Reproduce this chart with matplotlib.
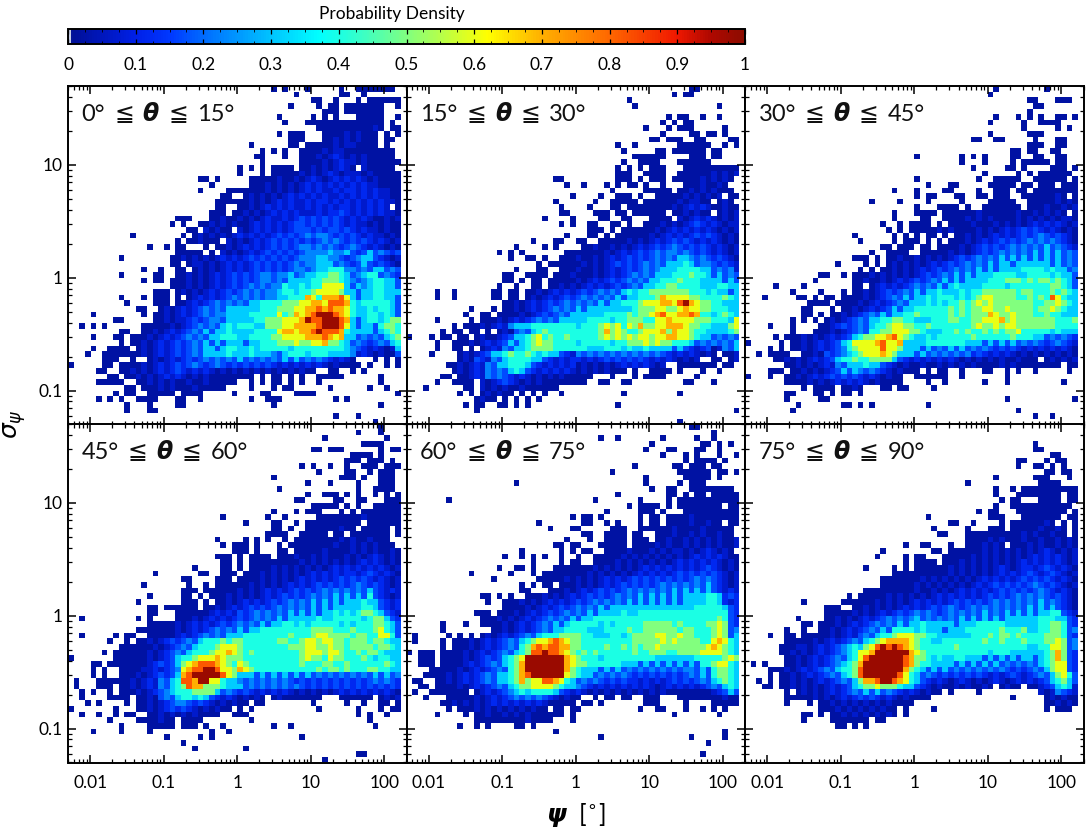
import numpy as np
import matplotlib
matplotlib.use("Agg")
import matplotlib.pyplot as plt
from matplotlib.colors import LinearSegmentedColormap
from matplotlib.ticker import FixedLocator, FixedFormatter, NullFormatter

# cell levels: one char per bin, groups of ten columns, "-" = empty group, top row first
LEVELS = {"0": 0.02, "a": 0.07, "1": 0.12, "b": 0.17, "2": 0.23, "3": 0.31,
          "4": 0.40, "5": 0.50, "6": 0.60, "7": 0.70, "8": 0.82, "9": 0.98}

P1 = [
"- - - ......0.0 ..0.....0 .0000000","- - - - 0.......00 ..0","- - - - ...00..0 .0.000000","- - - .........0 ....0.00.0 000000..0",
"- - - - .....000.0 000000","- - - .......0 ...0.0.0 .00000..0","- - - ........0. ..00000000 000000.0.0","- - - - ....000000 0000a0.00",
"- - - .......0.0 00...0000a 0a000.0.0","- - - .........0 00...00a0a 0a000.00","- - - ..0......0 0.00000a0a a0000.0..0","- - - ....0.0.0. .0000a0aa0 00000000.0",
"- - - ...00...0. .000a0a1a0 a0a00000.0","- - - ....0..... .0000a0a1a a0a000000.0","- - - 0.0.0.0000 .00a0a0a1a 0.a00000","- - - 0...0.0000 0a0a0a1a0a aa0a00000",
"- - ...00.0... ..00000a00 a0a1a0a1a1 a1a0a00000","- - .....0.... ..000a0a0a 0a1a1a1a1a 1a1aa0000","- - ...0....00 00000a0a0a 0a1a1aa1a1 1a1a1aa000","- - .......00. .0a0a0a0a1 a1a1a1aa1a 1a1a1aa000",
"- - ......0000 00a0a0a1a1 aa1a11a1a1 a1a1a1aa00","- - ......00.. 00a0a1a1a1 aa1a1a1a11 a1a1a1a.00","- - .....000.0 0a0a0a1a1a 1aaa1a11b1 a1a1a1aa00","- .........0 00...00a00 a0a0a1aa1a 1b1b1b1b1a 1a1a00a0a0",
"- ........0. 0..00a0a0a 00a1a1a1a1 bb1b1b1b1a 1aa0a0a000","- - .00.a0a00. a0a1a1a1a1 bbb1b1bb1b 1a1aa0a000","- .0........ 0.0a0a0a0a 1a1a1a1b1b 1b2b22b1b1 b1a1aa0a00","- .........0 .00a000.a0 a0a1a1b1b1 b1b1b2b2b1 b1b1a1a0a0",
"- ....0..0.0 0...0.00a0 a1a1a1b1b1 b22b2b2b1b 2b1a1a0a0a","- .........0 0000.0.a0a 0a1a1b1b1b 1b22223223 b1b3b2b1b1",".........0 ........00 a0a0a0a1a1 a1b1b1b1b1 b2223322b1 b233b1a0a0","- ........00 .0aa0a0a1a 1a1b1b1b1b 2b22333b2b 1b3b1b1a0a",
"- ...0..0..0 0.0a0a0a1a 1a1b1b1b1b 22b2334442 2b2b33b2b1",".........0 .....00..0 0a0a0a1a1b 1b1b22b223 b233445543 b2344b2b1","- ...0.00.00 0a0a0a1a1b 1b1b22b2b3 3334455543 2b234433b","- ........00 0a0a0a1a1b 1b2b2b2243 3434466663 b3234433b",
"- .....000.0 a0a0a1a1b1 b2b2b22344 3445666653 3b3344333b",".........0 ...0.000.0 .0a1a1a1b2 b2b2b22334 4476477786 3b334433b",".......... 0....000.0 0a1a1b2b2b 2b33444455 5667768887 43444443b","- ..00..0a0a 1a1b2b2b33 3333444555 6677878776 43343443b",
"....0..... ...0.00a0a 1a1b2b2233 3344444645 7678999876 43344343b","........00 .....00a0a a1b1b22b33 3334455566 6798899987 3b3443455","..0.0.0... ...00000a0 a1b2b2b343 4443355566 7777899986 3b33b4554",".........0 0..00a0a1a 1b2b3b3343 3334444677 6778988874 3333b34543",
"....0...00 .000a0a1a1 b2b2b33444 3344445566 6677787673 3b2b2b3453",".........0 .00a0a1a1b 1b2b3b3b33 3b33444555 6556675543 b2b1b2b343","....0..000 0.0a0a1a1b 1b2b33b344 3343444443 4444444443 2b1a1a0a34","...0..0000 000a0a1a1b 1b2b333343 3343332b34 4434443333 2a1a0a00b3",
"......000. .0..0a0a1a 1b1b2b2b2b 3b2b2b2b3b 3b2b2b1a1a 0...0.0.00","0.....00.0 000a0a1a1b 1b2b1b2b1b 1b1b1b1a1a 1a1a1a0a00 00.0..0.00",".....00..0 0a0a0a1a1b 1a1a1a0a0a 0a0a0a0a0a 0a00..00.. 0.0......0",".......00. 00a0a0a1a1 a0a0a00000 000.0.00.0 .0..00000. .....0",
".....00000 ..00a0a0a0 0a00a00000 ..0.0.00.0 .0..0..... .....0....0","- 00.000a0a0 00a00000.. ..0...0.00 ......0... ...0..0...0","........0. 00..00000. 0000.....0 ....00.... 0000...... ........0",".....0.0.0 ..0000...0 0..0...... ..0..000.. .......0.0",
"- 0...0....0 0 ......0 - .....0","- 0...00","- - - - .......0 .0","- - - - - ....0",
]

P2 = [
"- - - - - 00","- - - - .......0.0 0","- - - .........0","- - - - 0 .....0","","- - - - ......0.00 ..0..0","- - - - .....0.0.0 0","- - - - ..0...0.00 0.....0",
"- - - - .....0 00.00.0","- - - - ...00.000 .00....00","- - - .......0 0.......00 0000..0.0","- - - ........0 ....00.000 000.00",
"- - - - 000000 000.00","- - - ........0 .0000...00 0000","- - - .......0.0 .0.000...0 000000000","- - - .......000 ..0000..00 0000a0a0a0",
"- - ......00 .......000 .0.000.000 00a0a0a0","- - ........0 .0...0.0.0 0.0..0...0 00a00a0","- - - ......0 ..00000.00 a0a0a000.0","- - .........0 ....0..000 .0..00000a 0a0a0a.00",
"- - ......0 ...0..0000 0.000000a0 aa00.0a0","- - .......0 ..0...00.0 0000000a0a 1a1a00a000","- - .......00 ...000.00. 000000.00a 0a00.0a0a0","- - ....0....0 ....00..00 ...0000.a0 a1a1a0a0a0",
"- - .......0.0 ..00..00.0 ..000a0a0a 1b1a1a0aa0","- - - ..000.0.00 0000a0a1a1 a1a1a0a0a0","- - ........0. ..00.0.000 000a0a1a1a 1b1b1a0a00","- - ..0...00.. 00..00000a 0a0a1a1b1b 1a1a1a0a0",
"- .........0 ....0.0... .00a00a0a0 a1a1b1b2b1 b1b1a1a0a0","- ......0.0. 0.......00 00000a0a1a 1b1b2b22b2 b1b1a1a0a0","- ........0. .00.0..000 a00a0a1a1b 1b1b2b2b33 2b2b1b1a0a","- - ...0.00000 0a0a0a1b1b 1b2b2b3334 3b22b1b1a0",
"- .........0 ...00..000 a00a0a1a1b 1b2b233344 4433b2b2a1","- .......00. .0000.000a 000a0a1a1b 2b2b333444 5443b3b2b1","- .......00. 0.00.00000 a0a1a1b1b2 b2b3344454 443333b3b1","- ......0..0 ..00.00a0a 0a1a1a1b1b 2b33445544 443334433b",
".....0..0. .....00.00 .00a0a1a1a 1b1b2b2b34 3445555555 4443433b3a",".....0..0. .....00.00 .0a0a1a1b1 b2b2b2b3b3 3444576666 5544445433","- .......00a 0a1a1b1b2b 2b2b3b3344 4566677689 765544333b","- .0...0.00a 0a1a1b2b2b 3b33333333 4555665567 665544433b",
"- 0..00.0000 a0a1b1b2b3 3333344445 4556786677 8744345433",".....0.... .0.000a0a1 a1b2b2b333 3344443445 5544667666 6555444363","........0. 000a0a1a23 3344444444 3444565646 5755667776 5544333563","......0.00 .00.0.0a0b 2b34544444 4444575654 4566675766 5443333454",
"0...0.00.0 0.0a00a1b3 3456454454 4444565656 5665667766 5433b2b2b3",".....0..00 0a0a1a1b3b 3456554444 3444443445 5565655444 3b2b2b2b3b",".....0..00 .0.0a1a2b3 3455554444 4433344434 3343333b3b 1a1b0a2b3b","....0....0 a0a1b33454 4543433b1a 2b2b2b2b2b 2b2b2b1a1a 1a0a0.00a0",
".........0 a0b1a2b344 4433b1a1a1 1a1a1b1b1b 1b1a1a1a0a 0a..00.0a0",".......00a 0a1a2b3344 43b1a1a1a1 0a0a0a0a1a 1a1a0a..00 00000.00","........0a 0a1a2b2b34 3b1a1a1a1a 0a0a0a000. 0..0000.0. ..0..0...0","......00.0 0a1a2b2b1a 1a0a0a0a00 000...0... 0.0000.... .0",
".....0..00 00.a0a1b1a 0a0a000000 00..00..00 .........0 0...0","...0...... 00.a0a0a00 a000000...",".........0 .0.0a0a00. 0.0.0..0.. ........0. ........0.","- ..0a00.0.0 .0.0",
"- 0.00..00.0 .0 .......0","- ..0 - - - ........0","","- - - - ........0",
]

P3 = [
"- - - - ....0 ...0","- - - - ...0","- - - - - 00...000","- - - - - .00","- - - - - 0",
"- - - - ....0...0. 0.0..00.0","- - - - ...0.....0 ..0000","- - - - .........0 .....0.0","- - - - ...0 000",
"- - - - 00..00 .0...00..0","- - - - - 000..00","- - - - .......00. 00..00","- - - 0.......0. 0.0....00. .00..00",
"- - - ........0 ..0....0.0 0000.00","- - - - 0.....00.0 ....000.0","- - - - ..0.....0. 0.000000","- - - 0 .0..00000. .000000.0",
"- - - ..0...00 ...00000.0 0.000.000","- - ......0 0....00 .0..000.00 .000000000","- - - 0.00...00 .00.000..0 00000a0.00","- - ..0....0 ..0.....0 ...00000.. 00000a0a0",
"- - - 0...0000.0 ..0000000. 000a00a0a","- - ......0 0000.00000 0a000000a0 0a0a0a0.00","- - ......0 .00..0000a 0a0a0000a0 a0a0a0aa00",
"- - ....0..0.0 000.0.0000 a000a0a0a0 a1a1a1a0a0","- - .....0.0.0 0000a0a000 0a0a0a1a1b 1b1a1a0a00","- .........0 ......0.0. 0.00.0.00a 0a0a1a1a1b 1b2b1b1a0a",
"- - 0.....0.00 0.0.0.000a 0a1a1b1b1b 2b2b2b1a0a","- - ....00.000 .00.0000a0 a1b1b1b2b2 b2b3b2b1a1","- - ..0..0000. .00000a0a0 a1b1b2b2b2 b3b3b3b2b1",
"- .........0 00.0.00a00 a0a0a0a1b1 b2b2b3b3b3 b3b3b3b2b1","- ......0 .0.0.0a0a0 a0a1a1b1b2 b2b3b33b33 3333b3b2b1","- - 0.0.00a0a0 a1a1b1b2b2 b3b3b33334 4443433b2b",
"- ...00..0.0 00a0a0a0a0 a1b1b2b3b3 b333444433 44443433b2","- ..0......0 0a00a0a1a1 b1b2b3b3b3 3334445554 54554543b2",".....0 0........0 0.0a1a1a1b 2b2b3b3433 3344443444 44445543b1",
"........0 ...0...0.0 0a0a1b1b2b 3b33433343 4455555545 5444545433","...0.....0 0.0.00.000 0a0a1b2b3b 3343444343 4566555544 5454864333","- .0000.0000 a0a1a1b2b3 3343434454 5656555555 5445565433",
"- 00...0.00a 0a1a1b3b33 4444445454 5566556555 5455654333","- 00.0.00a0a 1b2b3b3344 5444445454 5557655655 5445443333","........0. 0.0.0a0a1b 2b33445544 3334445544 5566675655 5555544453",
"....0...0. ...00a1b1b 2b34456655 4454444444 5655656655 5555544445","........0 ..000a0a1b 2b44556665 5433344545 4454545564 4444343335",".....0.000 a0a0a1a1b3 4556678654 3343444444 5444444544 433b2b2b1b",
"0.....0.00 a0a1a1b346 6667866733 3344444443 33b3b3b3b2 b2b1b2b1a0","....0.0.00 a0a1a1b245 6666866533 3b3b2b3b3b 2b2b1b1b1a 1a1a1a1a0a","..0.0000.. 00a0b1b234 5666765333 b3b2b2b2b2 1b1a1a1a0a 0a0a0a0a0a",
".....00a0a 0a1a1b3445 4455553b1a 1a1a1a1a0a 0a0a0a00a0 00.0a0a0a0",".......00a 0a0a1a2b33 3433b1a0a0 0a00a0a0a0 a0000a0a00 000000.000","....000.00 a0a0a1b3b3 2b2b1a0a00 0.0.00..0. ..00..0.0. .0.....0",
"0...0..00a 0a1a1b1b1b 1a1a0a00.. 000000..0. ......0...",".......000 0a0a0a1a1a 1a0a0000.. ..0..0.... ..0...0 ......0","- 0.0000.00a 0...00.00. ...0",
".......00 ..00.0.00. 0",".......0 ...00 - - ......0 ........0",".........0 .......00. 0.0 ..0","........0 - - - ........0","- - - - - .0..0","",
]

P4 = [
"- - - - - .....0","- - - - - .0...0","- - - - .....0 ......0","- - - - - ..0000","- - - - ...00.000 .....0.00","- - - - - 0000.0","- - - - .........0 00.000.0",
"- - - - .0.0..0..0 ..000.000","- - - - ....0....0 0..0.000","- - - ......0 ........00 0.0..000","- - - - ..0...0 .0...000","- - - .......0 - .0..0000",
"- - - - ..0..000.0 .0..0.0.0","- - - - 00.....00. .00...0000","- - - - ...00000.0 .0..00000","- - - ......0 0.000...0. 0.0000000","- - .......0 .....0..0 ....000000 00a000000",
"- - - .0....00 0.00000000 00.000000","- - - ......00.0 ..000000a0 0.00000.0","- - - .....0000 .00000.00. 0000000.00","- - ......0 .0.0.0..0 00000000a0 a00a000","- - .......0.0 00.0...0.0 0000000a00 a0a0a000.0",
"- - .........0 00.0...00. 00000a0000 a0a0a00a00","- - ......000. 0.0000.000 a00a0a000a 0a0a1a0a0a","- - .......00. 0.00000000 0a0a0a0a0a 0a1a1a0a0a","- - ..0....00. 0.0000a0a0 a0a0a0a1a1 a1a1a1a0a0",
"- .....0 ...00..000 .000a0a0a0 a0a1a1a1a1 1a1b1a1a0a","- - 00....000. 0000a0a0a0 a1a1a1a1b1 b1b1a1a0a0","- ...0 .0..0.0000 00a0a0a0a1 a1a1b1b1b1 b2b1b1a0a","- - 000.000000 a0a0a1a1a1 b1b1b2b2b2 b2b3b1a1a0",
"- ....0 00.0.000a0 a0a0a1a1b1 b1b2b2b3b3 b3b4b1a0a0","- ..0 000.0.00a0 a1a1a1b1b2 b2b3b3b3b3 33433b1a1a","- ....00.000 000.00a0a1 a1b1b1b2b2 b2b3b3b333 33443b1a1a","- ....00...0 00000a1a1a b1b2b2b2b3 b3b3b33434 345543b1a0",
"..0 ..0.0....0 00a0a1a1a1 b1b2b2b3b3 3333433444 4434553b1a","- ....00000a 0a1a1a1b1b 2b2b3b3344 3434444434 34445543b1","- ..0000000a 0a1a1b2b2b 3b33444444 4445555444 54445643b1","..0.....0. 00..00000a 1a1b2b2b33 3444444445 4445665555 45544664b2",
".......0.. 0.00a0a1b1 b2b3444545 5444444554 4566566554 5554554333",".........0 00000a0a1b 2b34445666 5444444445 5566556554 5555455433","......0.00 0000a0a1b2 b344456676 5454444444 4566656654 4545543333","0.......00 0000a0a1b3 4456667655 5444444444 4565546554 4454344333",
"....00.000 0000a1b1b3 5678887654 6544444444 4544455445 4444445433","....0.0..0 000aa1a1b2 6788998665 7654444444 4444545545 4445544333","....0.0..0 00a0a1b1b3 7899999865 333b3b3b3b 3b3b2b2b2b 2b2b3b3b2b",".0...00000 0a0a1a2b34 8879966433 2b2b2b2b2b 1b1b1b1b1b 1b1b2b2b1a",
".0...000.0 0a0a1a2b34 5877555433 3b2b2b2b2b 2b1b1b1b1b 1b1b1b1b1a","..0.0..0.0 00a0a1b234 4455553b2b 1b1a1a1a1a 0a0a0a0a1a 1a1a1a1a0a","..0....000 0.00a0b2b3 44343b1a1a 0a0a0.0a00 00000...00 0000.0a0a0","...0.0.... 0.00a0a1b2 2b1b1a0a0a 00.00... ...0.....0 ..0..00.00",
"0.......0. ..00a0a1b1 b1a0a0a00. 0.0....... ....0..... .0...0.00","..0..0..0. 00..00a0a0 a0a0000..0 00 - .0.0..0",".......0 ..0000a00. 0000.... ..0 - ...0",".........0 ....00000. 000.0..0 ......0..0 - ....0",
"....0....0 ....0 .....0..0","- .......0 ...0.0 - .0 .........0","- - 0","- - ..0 .0","- - - - - .00","- - - - .....0",
]

P5 = [
"- - - - - 00","- - - - - ....0","- - - ....0..0 .....0 .0..0","- - - - ...0 ..00.0.0","- - - - ..0...00 .00..0","- - - - .....0...0 .0...0..0","- - - - .........0 .0000.0","- - - - 0......00. 000.00",
"- - - ......0 ........00 0000.00.0","- - - - ..0......0 0000.0...0","- .........0 - - ..0.....0. 000","- - - - ...0..00 00000000.0","- - - .......0 ......00.0 .00.00000.0",".......0 - - ...0 .0....0.00 000000000","- - - .........0 .0000.0.00 000000.000",
"- - - .....0 .000.0...0 000000000","- - .........0 .00.0 .0.00.0000 a000000000","- - ...0 .00..0.0 .0.00.0000 a00a00.00","- - .....0...0 0.....000 .000000a00 00a00000","- - - .00..0000. 00..000a00 a0a00a00.0",
"- - ........0 ..0..0000. 000.00a00a 0a0a0a00a0","- - ......00.0 0...00000. 0000a0a00a 0a0a0a00a0","- - 0......0.0 .00..0000a 000a0a0aa0 a0a1a0a0.0","- .......0 0.0.0..0 0..00000a0 a0a0a0a0a0 a1a1a1a00","- - ..0....0.0 0..0000a0a 0a0a0a0a1a 1a1a1a0a00",
"- ......0..0 0.0...0000 000a0a0a0a 0a1a1a1a1a 1a1b1a0a00","- .0......0 ..0.000000 00a0a0a0a0 a1a1a1a1b1 b1b1b1a0a0","- .....0 ...00000a0 a0a0a1a1a1 b1b1b1b1b1 b2b2b1a0a0","- - 0.0.00.000 a0a0a1a1b1 b1b1b2b2b2 b2b3b1a0a0","- - 00...000a0 a1a1b1b1b2 b2b2b2b3b3 b3b3b1a1a0",
"- ...00.0.0 .000a0a0a1 a1b1b1b2b2 b3b3b3b3b3 3334431b1a","- ....0..000 a0a0a1a1a1 b1b2b2b2b3 b3b3b3b3b3 3334431a1a","- .......000 0a0a1a1b1b 2b2b3b3333 3333333333 3444443b1a","- ..000.000a 0a1a1b1b2b 2b3b333343 3444444444 4444444b1a","- ...000a0a0 a1a1b2b2b3 b334444444 4444444444 4444454b1a",
"......0 0..0000a0a 1a1b2b3b34 4444343444 4455555454 4445565b1a","......0 .....00a0a 1a1b2b3344 4433344445 4455555545 5444565b2b",".0.....0.0 .0.0a0a1a1 b2b3444555 5443334434 5555665565 5444565b3b",".0....0.00 0a0a1a1b2b 3456678765 5444444444 5555565655 5544676433",
"......0.00 0a0a1a1b2b 4578788775 5444454454 5455655555 5556765433","0.000.0000 a0a1a1b2b3 4588988765 4545444444 5445554455 5566665433","..000.0000 a0a1b1b345 6999999976 5444344444 4444333333 3444445653","..000.0000 a1a1b2b345 7999999976 5544444433 3b3b3b3b3b 3b44566433",
"....00000a 0a1a1b2b45 7999999975 4333b3b3b2 b2b2b2b2b2 2b3b455433","...0000a0a 1a1b2b3345 7899999965 433b2b2b2b 1b1b1b1b1b 2b3b455432",".00..00a0a 1a1b2b3345 7566887643 b2b2b1b1b1 1a1a1a1b1b 1b2b34543b","..00.0000a 0a1a1b2b34 5566665433 2b1a1a1a1a 1a1a0a1a1a 1a1b2b343b",
".0..000000 0.0a1a1b23 4344443b1a 1a0a0a0a0a 0a0a0a0000 0000a1b3b1","...0...000 00a0a1a1b2 b2b2b1a0a0 0..0.00.00 ..000...00 000000a00","......00a0 a0a0a1a1a1 a1a1a00000 .00.0..... ..000....0 ....00000",".......0.0 00a0a0a0a0 a0a00.00.0 0 .0..00...0 ..0.0.0",
".....0 0.00a00a0a 0a000000.0 - .......0 .....0","- ..00000000 0a0000...0",".........0 ..0.0....0 0.0","- - ......0 - - ......0","- - - ....0 - 0.....0","- - - - - ...0","","- - - - - ..0","",
]

P6 = [
"","","","- - - - - .0","- - - - - .00","- - - - - ....00","- - - - ........00 ...0.00","- - - - ........0 .00.0.0","- - - - - ...00.00",
"- - - - ....0 .000...0","- - - .........0 - ..0000","- - - - ....0..0.0 000000000","- - - - ....0...00 000000.00","- - - - .....0.00. ..0000.000","- - - - ....0..000 00000000","- - - - .0.00...00 0000000.00",
"- - - ..0 ...000...0 000000.000","- - - ......00 0....0.000 000a0.0.00","- - - ...0.....0 ...000.000 00a00a0.00","- - - ....00...0 000000000a 0a00a00.00","- - - .........0 000a0a000a 00a00a0a00","- - ........0 .00...0..0 00a0a0.000 a0a00a0a00",
"- - ....0 ...00.0000 00a0a0a0a0 a0a1a0a0a0","- - ...0....0. 00...00000 a0a0a0a0a0 a1a1a1a0a0","- - ........0. 0000.000a0 a0a0a0a0a1 a1a1a1a0a0","- - .0....0.0. 000000a0a0 a0a0a1a0a1 1a1b1a1a0a","- - ......0000 000000a0a0 a0a0a1a1a1 b1a1b1a0a0",
"- - ....000000 0a0a0a0a0a 0a1a1a1a1b 1b1b1a1a0a","- - ....000000 a0a0a0a0a0 a1a1b1b1b1 b2b1b1a0a0","- - .000000000 a00a0a0a1a 1a1a1b1b1b 1b2b1a1a0a","- ........0. 00000a0a0a 0a0a1a1a1a 1a1b1b1b2b 2b2b1b1a0a","- 0......000 000a0a0a0a 1a1a1a1b1b 1b1b2b2b2b 2b3b2b1a0a",
"- ....000..0 0a0a0a0a1a 1a1b1b2b1b 2b2b2b2b2b 3b3b3b1a0a","- ....00000a 0a0a1a1b1b 2b2b1b2b2b 2b3b2b3b3b 3b3344b1a0",".........0 ....00a0a0 a1a1b2b2b2 3b2b2b2b3b 3b3b3b3333 3344433b1a","- 00.000a0a1 a1b2b2b3b3 3433333b33 3444443333 3344554b1a",".......0 0..00a0a1a 1b2b3b4444 34333b3334 4444454445 3344554b2a",
"....0..00 00000a0a1a b2b3445666 5544333333 4445455454 4445554b1a",".......000 00a0a1a1b2 b345677776 5443344444 4454454445 4445565b2a","......000a a0a1a1b234 3568989876 5444444544 4444444444 3344665b2a","......00a0 a0a1a1b234 6679999997 6544444444 4443444333 3334575b1a",
".......00a 0a1a1b2b34 6899999987 5543433443 33b3b3b3b3 3b34575b1a",".0.0...00a 0a1a1b2345 7999999987 5443333b3b 3b3b3b2b2b 2b34566b1a","....000a0a 1a1b2b3445 8999999975 43b3b3b2b2 b2b2b2b1b1 b2b3566b1a","....0.00a0 a1a1b2b345 8999999864 3b2b1b1b1b 1b1a1a1b1a 1b2b3564b0",
"..0.0.00a0 a0a1a1b2b3 5778998764 3b1a1a0a1a 0a0a1a0a1a 1a1b3453b0","...00.00a0 a0a0a1a1b3 4556555433 b1a0a00a0a 00a0.0a00. 00a1b343a0",".......0.0 a0a0a1a1b2 b3b3b2b1a1 a0a00.0... .0........ ..a0a2b1a0",".......000 00a0a0a1a1 b1b1a1a0a0 000 .......0 ...0a0a00",
".......0 .0.00a0a0a 0a0a0a0000 - - ...00a0a0","- ...000a0a0 a0a0a00.0 ...0 - ...0.000","- 00.0.00a0a 0a0a0a0.0","- 0....00000 00.00","- ......00.0 .0","","","","","",
]

PANELS = [P1, P2, P3, P4, P5, P6]
THETA_LABELS = [("0", "15"), ("15", "30"), ("30", "45"), ("45", "60"), ("60", "75"), ("75", "90")]

X_TICKS = [0.01, 0.1, 1, 10, 100]
X_LABELS = ["0.01", "0.1", "1", "10", "100"]
Y_TICKS = [0.1, 1, 10]
Y_LABELS = ["0.1", "1", "10"]
CBAR_TICKS = [0, 0.1, 0.2, 0.3, 0.4, 0.5, 0.6, 0.7, 0.8, 0.9, 1]
CBAR_LABELS = ["0", "0.1", "0.2", "0.3", "0.4", "0.5", "0.6", "0.7", "0.8", "0.9", "1"]

W, H = 1089, 833
PANEL_X = [68, 406.5, 745]
PANEL_Y = [86, 424]
PANEL_SIZE = 338.5
NBINS = 60

FONT = ["Lato", "DejaVu Sans"]
plt.rcParams["font.family"] = FONT
plt.rcParams["mathtext.fontset"] = "dejavusans"
plt.rcParams["axes.linewidth"] = 1.4

cmap = LinearSegmentedColormap.from_list("idl33", [
    (0.0, "#c4cce4"), (0.004, "#000f96"), (0.1, "#0020e8"), (0.15, "#0038ff"),
    (0.2, "#006cff"), (0.3, "#00c4ff"), (0.37, "#00ffff"), (0.44, "#40ffc0"),
    (0.5, "#80ff80"), (0.56, "#c0ff40"), (0.62, "#ffff00"), (0.7, "#ffb000"),
    (0.8, "#ff6800"), (0.9, "#f01800"), (0.95, "#b00800"), (1.0, "#8c0c00"),
], N=256)
cmap.set_bad("white")


def to_grid(rows):
    z = np.full((NBINS, NBINS), np.nan)
    for r, row in enumerate(rows[:NBINS]):
        c0 = 0
        for group in row.split():
            if group != "-":
                for i, ch in enumerate(group):
                    # last bin stays empty in the picture
                    if ch in LEVELS and c0 + i < NBINS - 1:
                        z[NBINS - 1 - r, c0 + i] = LEVELS[ch]
            c0 += 10
    return np.ma.masked_invalid(z)


def rect(x, y, w, h):
    return [x / W, 1 - (y + h) / H, w / W, h / H]


def style_axis(ax, show_x, show_y):
    minors = [m * 10.0 ** e for e in range(-3, 3) for m in range(2, 10)]
    ax.set_xscale("log")
    ax.set_yscale("log")
    ax.set_xlim(0.005, 200)
    ax.set_ylim(0.05, 50)
    ax.xaxis.set_major_locator(FixedLocator(X_TICKS))
    ax.yaxis.set_major_locator(FixedLocator(Y_TICKS))
    ax.xaxis.set_minor_locator(FixedLocator(minors))
    ax.yaxis.set_minor_locator(FixedLocator(minors))
    ax.xaxis.set_minor_formatter(NullFormatter())
    ax.yaxis.set_minor_formatter(NullFormatter())
    ax.xaxis.set_major_formatter(FixedFormatter(X_LABELS if show_x else [""] * 5))
    ax.yaxis.set_major_formatter(FixedFormatter(Y_LABELS if show_y else [""] * 3))
    ax.tick_params(which="major", direction="in", length=5.5, width=1.1, top=True, right=True, labelsize=12.5)
    ax.tick_params(axis="x", which="major", pad=9)
    ax.tick_params(axis="y", which="major", pad=4)
    ax.tick_params(which="minor", direction="in", length=2.8, width=0.9, top=True, right=True)


def theta_label(fig, ax, lo, hi):
    # pieces laid out one after another, the bold theta and the sign need their own font
    x0, y0 = ax.transAxes.transform((0.04, 0.917))
    parts = [(lo + "°", {"family": FONT}), ("≦", {"family": "DejaVu Sans"}),
             ("θ", {"family": "DejaVu Sans", "weight": "bold", "style": "italic"}),
             ("≦", {"family": "DejaVu Sans"}), (hi + "°", {"family": FONT})]
    x = x0
    rend = fig.canvas.get_renderer()
    for s, kw in parts:
        t = fig.text(x / W, y0 / H, s, fontsize=17, va="center", ha="left", color="#111111", **kw)
        x = t.get_window_extent(rend).x1 + 9


fig = plt.figure(figsize=(W / 100, H / 100), dpi=100)
xedges = np.logspace(np.log10(0.005), np.log10(200), NBINS + 1)
yedges = np.logspace(np.log10(0.05), np.log10(50), NBINS + 1)

for i, rows in enumerate(PANELS):
    col, row = i % 3, i // 3
    ax = fig.add_axes(rect(PANEL_X[col], PANEL_Y[row], PANEL_SIZE, PANEL_SIZE))
    ax.pcolormesh(xedges, yedges, to_grid(rows), cmap=cmap, vmin=0, vmax=1, linewidth=0, rasterized=True)
    style_axis(ax, row == 1, col == 0)
    theta_label(fig, ax, *THETA_LABELS[i])

# colorbar
cax = fig.add_axes(rect(68, 29, 677, 15))
sm = plt.cm.ScalarMappable(cmap=cmap, norm=plt.Normalize(0, 1))
cb = fig.colorbar(sm, cax=cax, orientation="horizontal")
cb.set_ticks(CBAR_TICKS, labels=CBAR_LABELS)
cb.ax.xaxis.set_minor_locator(FixedLocator(np.arange(0, 1.001, 0.025)))
cax.tick_params(which="major", direction="in", length=3.5, width=0.9, top=True, labelsize=12.5, pad=9)
cax.tick_params(which="minor", direction="in", length=2, width=0.6, top=True)
cb.outline.set_linewidth(1.4)

fig.text(392 / W, 1 - 14 / H, "Probability Density", fontsize=12.5, ha="center", va="center")
fig.text(576 / W, 1 - 815 / H, r"$\boldsymbol{\psi}$  [$^{\circ}$]", fontsize=18, ha="center", va="center")
fig.text(15 / W, 1 - 424 / H, r"$\boldsymbol{\sigma_{\psi}}$", fontsize=18, rotation=90, ha="center", va="center")

fig.savefig("out.png", dpi=100)
